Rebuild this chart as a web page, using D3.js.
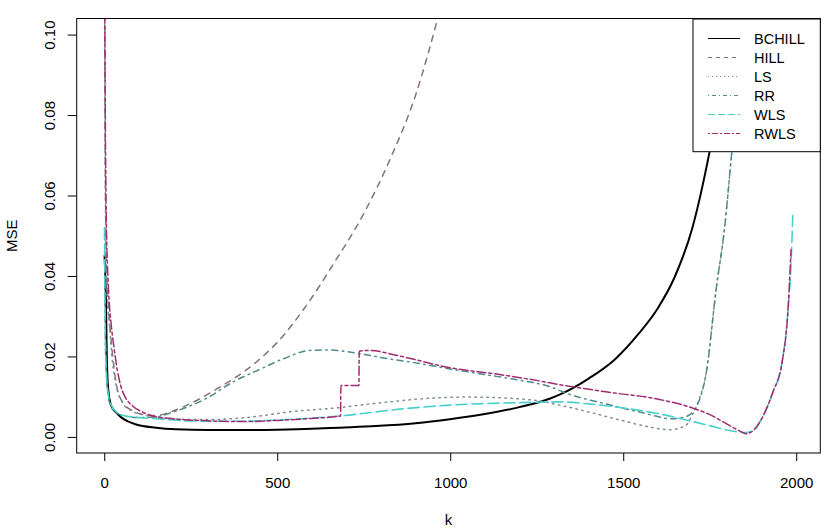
<!DOCTYPE html>
<html>
<head>
<meta charset="utf-8">
<script src="https://cdn.jsdelivr.net/npm/d3@7"></script>
<style>
    body { margin: 0; background: #fff; }
    text { font-family: "Liberation Sans", Arial, sans-serif; fill: #000; }
</style>
</head>
<body>
<div id="chart"></div>
<script>
// MSE against k for each estimator
const seriesNames = ['BCHILL', 'HILL', 'LS', 'RR', 'WLS', 'RWLS'];

const bchill = [[1, 0.045], [3, 0.04], [5, 0.034], [7, 0.022], [10, 0.0136], [15, 0.0095], [20, 0.0078],
    [34, 0.0061], [50, 0.0048], [70, 0.0038], [92, 0.0031], [150, 0.0023], [207, 0.0019], [300, 0.0017],
    [380, 0.0017], [500, 0.0018], [600, 0.002], [681, 0.0023], [785, 0.0027], [900, 0.0034], [999, 0.0044],
    [1100, 0.0057], [1200, 0.0074], [1287, 0.0095], [1316, 0.0105], [1400, 0.0145], [1475, 0.0192],
    [1547, 0.0259], [1600, 0.032], [1650, 0.04], [1700, 0.052], [1749, 0.0706], [1790, 0.09], [1815, 0.106]];

const hill = [[1, 0.12], [3, 0.07], [5, 0.05], [8, 0.038], [10, 0.035], [14, 0.03], [20, 0.024], [34, 0.0136],
    [53, 0.0086], [80, 0.0066], [111, 0.0056], [150, 0.0053], [200, 0.0065], [323, 0.0118], [438, 0.0185],
    [500, 0.0235], [591, 0.0335], [661, 0.0428], [750, 0.0555], [825, 0.0688], [900, 0.085], [970, 0.106]];

const ls = [[1, 0.11], [3, 0.065], [5, 0.048], [10, 0.033], [15, 0.028], [20, 0.022], [34, 0.013], [53, 0.0085],
    [80, 0.0064], [111, 0.0055], [150, 0.0049], [200, 0.0045], [300, 0.0043], [421, 0.0049], [533, 0.0062],
    [681, 0.0073], [800, 0.0085], [941, 0.0096], [1050, 0.0099], [1150, 0.0097], [1259, 0.0089], [1316, 0.0079],
    [1400, 0.0062], [1500, 0.004], [1580, 0.0024], [1634, 0.0018], [1680, 0.0028], [1700, 0.0055],
    [1720, 0.0095], [1740, 0.016], [1769, 0.037], [1793, 0.052], [1813, 0.07], [1830, 0.085], [1848, 0.106]];

const rr = [[1, 0.052], [2, 0.035], [3, 0.025], [5, 0.018], [8, 0.013], [12, 0.01], [20, 0.0075], [35, 0.006],
    [60, 0.0052], [100, 0.0048], [150, 0.005], [200, 0.0062], [300, 0.0098], [371, 0.0136], [450, 0.0168],
    [520, 0.0195], [594, 0.0215], [650, 0.0216], [700, 0.0212], [739, 0.0207], [823, 0.0194], [900, 0.0184],
    [1000, 0.0169], [1100, 0.0155], [1200, 0.0141], [1280, 0.0127], [1344, 0.0106], [1450, 0.0082],
    [1557, 0.006], [1640, 0.0045], [1680, 0.005], [1712, 0.0076], [1740, 0.016], [1769, 0.037], [1793, 0.052],
    [1813, 0.07], [1830, 0.085], [1848, 0.106]];

const wls = [[1, 0.052], [2, 0.036], [3, 0.027], [5, 0.019], [8, 0.0135], [12, 0.0105], [20, 0.008], [35, 0.0062],
    [60, 0.0052], [100, 0.0048], [150, 0.0045], [200, 0.0042], [300, 0.0039], [400, 0.0039], [500, 0.0042],
    [600, 0.0047], [681, 0.0052], [854, 0.0069], [999, 0.0079], [1191, 0.0085], [1316, 0.0087], [1400, 0.0082],
    [1500, 0.0072], [1600, 0.0058], [1682, 0.0042], [1750, 0.0028], [1800, 0.0017], [1856, 0.0011],
    [1880, 0.0018], [1900, 0.0045], [1932, 0.011], [1960, 0.019], [1975, 0.03], [1985, 0.043], [1990, 0.055]];

const rwls = [[1, 0.12], [3, 0.08], [5, 0.06], [8, 0.046], [10, 0.041], [14, 0.034], [20, 0.028], [29, 0.0217],
    [38, 0.0165], [48, 0.0126], [60, 0.01], [82, 0.0077], [110, 0.0062], [140, 0.0052], [200, 0.0045],
    [300, 0.004], [400, 0.0038], [500, 0.0041], [600, 0.0046], [683, 0.0052], [684, 0.0128], [736, 0.0128],
    [737, 0.0213], [765, 0.0215], [854, 0.0201], [999, 0.0172], [1143, 0.0155], [1259, 0.0139], [1316, 0.013],
    [1450, 0.0112], [1605, 0.0093], [1700, 0.0072], [1749, 0.0056], [1800, 0.0032], [1836, 0.0015],
    [1855, 0.0008], [1875, 0.0015], [1894, 0.0036], [1932, 0.011], [1960, 0.019], [1975, 0.03], [1985, 0.0465]];

const xTicks = [0, 500, 1000, 1500, 2000];
const yTicks = [0.00, 0.02, 0.04, 0.06, 0.08, 0.10];

const seriesData = [bchill, hill, ls, rr, wls, rwls];
const colors = ['#000000', '#86707c', '#7f8f86', '#4f8a8b', '#48d1cc', '#a02c70'];
const dashes = [null, [4, 4], [1, 3], [1, 3, 4, 3], [7, 3], [2, 2, 6, 2]]; // R lty 1..6
const widths = [2, 1.5, 1.5, 1.5, 1.6, 1.5];

const W = 840, H = 530;
const box = {left: 76.7, right: 820.3, top: 18.5, bottom: 453};

const svg = d3.select('#chart').append('svg')
    .attr('width', W).attr('height', H);

// R pads each axis by 4%
const x = d3.scaleLinear().domain([0 - 0.04 * 1990, 1990 + 0.04 * 1990]).range([box.left, box.right]);
const y = d3.scaleLinear().domain([-0.004, 0.104]).range([box.bottom, box.top]);

svg.append('defs').append('clipPath').attr('id', 'plotclip')
    .append('rect')
    .attr('x', box.left).attr('y', box.top)
    .attr('width', box.right - box.left).attr('height', box.bottom - box.top);

const line = d3.line().x(d => x(d[0])).y(d => y(d[1])).curve(d3.curveMonotoneX);

const g = svg.append('g').attr('clip-path', 'url(#plotclip)');
seriesData.forEach((data, i) => {
    g.append('path')
        .datum(data)
        .attr('d', line)
        .attr('fill', 'none')
        .attr('stroke', colors[i])
        .attr('stroke-width', widths[i])
        .attr('stroke-linecap', 'round')
        .attr('stroke-linejoin', 'round')
        .attr('stroke-dasharray', dashes[i] ? dashes[i].map(v => v * widths[i]).join(',') : null);
});

// axes, R style: ticks outside, labels below / rotated
const xAxis = svg.append('g').attr('transform', `translate(0,${box.bottom})`)
    .call(d3.axisBottom(x).tickValues(xTicks).tickSize(8).tickPadding(0).tickFormat(d3.format('d')));
xAxis.select('.domain').remove();
xAxis.selectAll('line').attr('stroke', '#000');
xAxis.selectAll('text').attr('font-size', 15).attr('dy', null).attr('y', 35);

const yAxis = svg.append('g').attr('transform', `translate(${box.left},0)`)
    .call(d3.axisLeft(y).tickValues(yTicks).tickSize(9).tickFormat(d3.format('.2f')));
yAxis.select('.domain').remove();
yAxis.selectAll('line').attr('stroke', '#000');
yAxis.selectAll('text')
    .attr('font-size', 15)
    .attr('x', null).attr('dy', null)
    .attr('text-anchor', 'middle')
    .attr('transform', 'translate(-22,0) rotate(-90)');

svg.append('rect')
    .attr('x', box.left).attr('y', box.top)
    .attr('width', box.right - box.left).attr('height', box.bottom - box.top)
    .attr('fill', 'none').attr('stroke', '#000').attr('stroke-width', 1);

svg.append('text')
    .attr('x', (box.left + box.right) / 2).attr('y', 525)
    .attr('text-anchor', 'middle').attr('font-size', 15)
    .text('k');

svg.append('text')
    .attr('transform', `translate(16.5,${(box.top + box.bottom) / 2}) rotate(-90)`)
    .attr('text-anchor', 'middle').attr('font-size', 15)
    .text('MSE');

// legend, top right
const leg = svg.append('g');
leg.append('rect')
    .attr('x', 693).attr('y', box.top + 0.5)
    .attr('width', box.right - 693).attr('height', 151.7 - box.top - 0.5)
    .attr('fill', '#fff').attr('stroke', '#000').attr('stroke-width', 1);

seriesNames.forEach((name, i) => {
    const ly = 38.5 + i * 19;
    leg.append('line')
        .attr('x1', 708).attr('x2', 740).attr('y1', ly).attr('y2', ly)
        .attr('stroke', colors[i])
        .attr('stroke-width', 1)
        .attr('stroke-dasharray', dashes[i] ? dashes[i].join(',') : null);
    leg.append('text')
        .attr('x', 754).attr('y', ly + 5)
        .attr('font-size', 14.5)
        .text(name);
});
</script>
</body>
</html>
